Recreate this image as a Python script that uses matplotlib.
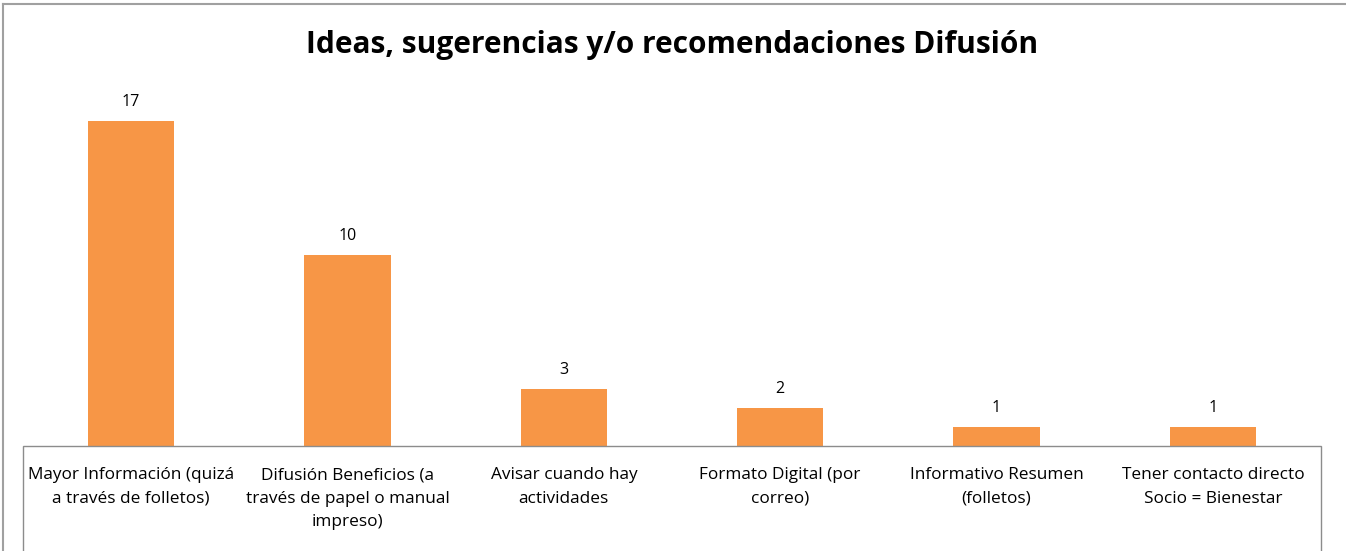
import matplotlib
matplotlib.use("Agg")
import matplotlib.pyplot as plt
from matplotlib.patches import Rectangle
from matplotlib.lines import Line2D

categories = [
    "Mayor Información (quizá\na través de folletos)",
    "Difusión Beneficios (a\ntravés de papel o manual\nimpreso)",
    "Avisar cuando hay\nactividades",
    "Formato Digital (por\ncorreo)",
    "Informativo Resumen\n(folletos)",
    "Tener contacto directo\nSocio = Bienestar",
]
values = [17, 10, 3, 2, 1, 1]
title = "Ideas, sugerencias y/o recomendaciones Difusión"

W, H = 1346, 551
fig = plt.figure(figsize=(W / 100, H / 100), dpi=100)
plt.rcParams['font.family'] = ['Open Sans', 'DejaVu Sans']

# axes in pixel geometry
x0, x1 = 23, 1321
ybase = 446
ymax = 19
pxu = (446 - 121) / 17.0
ytop = ybase - ymax * pxu
ax = fig.add_axes([x0 / W, 1 - ybase / H, (x1 - x0) / W, (ybase - ytop) / H])
xs = list(range(len(values)))
ax.bar(xs, values, width=0.4, color="#F79646", zorder=2)
ax.set_xlim(-0.5, len(values) - 0.5)
ax.set_ylim(0, ymax)
for s in ax.spines.values():
    s.set_visible(False)
ax.set_xticks([])
ax.set_yticks([])
for x, v in zip(xs, values):
    ax.annotate(str(v), (x, v), xytext=(0, 13.5), textcoords="offset points",
                ha="center", va="center", fontsize=11.5, color="#000000")

# category label box
fig.add_artist(Rectangle((x0 / W, -0.1), (x1 - x0) / W, 1 - ybase / H + 0.1,
                         transform=fig.transFigure, fill=False,
                         edgecolor="#8c8c8c", linewidth=1.0))
for x, c in zip(xs, categories):
    fx = (x0 + (x + 0.5) * (x1 - x0) / len(values)) / W
    fig.text(fx, 1 - 467 / H, c, ha="center", va="top", fontsize=12.4,
             linespacing=1.64, color="#000000")

# outer chart frame (top and left visible)
fig.add_artist(Line2D([3 / W, 3 / W], [0, 1 - 4 / H], transform=fig.transFigure,
                      color="#a0a0a0", linewidth=1.5))
fig.add_artist(Line2D([3 / W, 1], [1 - 4 / H, 1 - 4 / H], transform=fig.transFigure,
                      color="#a0a0a0", linewidth=1.5))

fig.text(672 / W, 1 - 45 / H, title, ha="center", va="center",
         fontsize=21.5, fontweight="bold", color="#000000")

fig.savefig("out.png", dpi=100)
